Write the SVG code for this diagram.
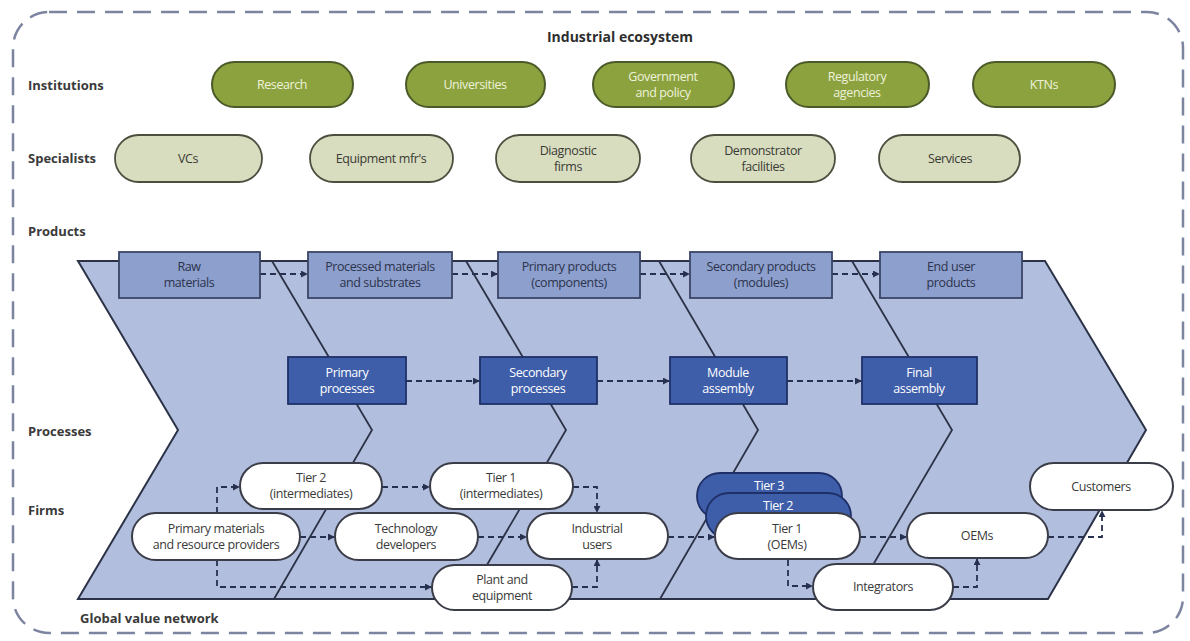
<svg xmlns="http://www.w3.org/2000/svg" width="1190" height="641" viewBox="0 0 1190 641">
  <defs>
    <marker id="arrow" viewBox="0 0 8 8" refX="7" refY="4" markerWidth="7" markerHeight="7" markerUnits="userSpaceOnUse" orient="auto">
      <path d="M0,0 L8,4 L0,8 Z" fill="#27304f"/>
    </marker>
    <style>
      .lbl { font-family: "Open Sans", "Liberation Sans", sans-serif; font-size: 13px; font-weight: 700; fill: #3a3a3a; }
      .title { font-family: "Open Sans", "Liberation Sans", sans-serif; font-size: 14px; font-weight: 700; fill: #2e2e2e; }
      .t { font-family: "Open Sans", "Liberation Sans", sans-serif; font-size: 12.5px; text-anchor: middle; letter-spacing: -0.4px; }
      .inst rect { fill: #8ca23e; stroke: #4a5a28; stroke-width: 2; }
      .inst text { fill: #eef2dc; }
      .spec rect { fill: #d8ddc0; stroke: #4c4f3e; stroke-width: 1.8; }
      .spec text { fill: #3a3a34; }
      .prod rect { fill: #8d9fcd; stroke: #3a4566; stroke-width: 1.8; }
      .prod text { fill: #2c334c; }
      .proc rect { fill: #3e5eaa; stroke: #1f3068; stroke-width: 1.8; }
      .proc text { fill: #ffffff; }
      .firm rect { fill: #ffffff; stroke: #3a3d48; stroke-width: 2; }
      .firm text { fill: #3a3a3a; }
      .tier rect { fill: #3e5eaa; stroke: #1f3068; stroke-width: 1.8; }
      .tier text { fill: #ffffff; }
      .conn path { fill: none; stroke: #27304f; stroke-width: 1.8; stroke-dasharray: 6 4; marker-end: url(#arrow); }
      .chev { fill: #b2bedd; stroke: #2c3348; stroke-width: 2; stroke-linejoin: miter; }
      .chevline { fill: none; stroke: #2c3348; stroke-width: 1.8; }
    </style>
  </defs>

  <rect width="1190" height="641" fill="#ffffff"/>

  <!-- ecosystem boundary -->
  <rect x="13" y="12" width="1170" height="621" rx="36" fill="none" stroke="#7d84a0" stroke-width="2.5" stroke-dasharray="18 10"/>

  <text class="title" x="620" y="42" text-anchor="middle">Industrial ecosystem</text>

  <!-- row labels -->
  <text class="lbl" x="28" y="90">Institutions</text>
  <text class="lbl" x="28" y="163">Specialists</text>
  <text class="lbl" x="28" y="236">Products</text>
  <text class="lbl" x="28" y="436">Processes</text>
  <text class="lbl" x="28" y="515">Firms</text>
  <text class="lbl" x="80" y="623">Global value network</text>

  <!-- value chain chevrons -->
  <g id="value-chain">
    <polygon class="chev" points="78,261 1045,261 1146,430 1048,599 78,599 178,430"/>
    <polyline class="chevline" points="272,261 372,430 274,599"/>
    <polyline class="chevline" points="466,261 566,430 467,599"/>
    <polyline class="chevline" points="659,261 758,430 660,599"/>
    <polyline class="chevline" points="852,261 952,430 853,599"/>
  </g>

  <!-- institutions -->
  <g id="research" class="inst"><rect x="212" y="62" width="141" height="45" rx="22.5"/><text class="t" x="282" y="89">Research</text></g>
  <g id="universities" class="inst"><rect x="406" y="62" width="139" height="45" rx="22.5"/><text class="t" x="475" y="89">Universities</text></g>
  <g id="government" class="inst"><rect x="593" y="62" width="141" height="45" rx="22.5"/><text class="t" x="663" y="81">Government</text><text class="t" x="663" y="97">and policy</text></g>
  <g id="regulatory" class="inst"><rect x="786" y="62" width="143" height="45" rx="22.5"/><text class="t" x="857" y="81">Regulatory</text><text class="t" x="857" y="97">agencies</text></g>
  <g id="ktns" class="inst"><rect x="973" y="62" width="142" height="45" rx="22.5"/><text class="t" x="1044" y="89">KTNs</text></g>

  <!-- specialists -->
  <g id="vcs" class="spec"><rect x="115" y="135" width="147" height="47" rx="23.5"/><text class="t" x="188" y="163">VCs</text></g>
  <g id="equipment-mfrs" class="spec"><rect x="310" y="135" width="143" height="47" rx="23.5"/><text class="t" x="381" y="163">Equipment mfr's</text></g>
  <g id="diagnostic" class="spec"><rect x="496" y="135" width="144" height="47" rx="23.5"/><text class="t" x="568" y="155">Diagnostic</text><text class="t" x="568" y="171">firms</text></g>
  <g id="demonstrator" class="spec"><rect x="691" y="135" width="144" height="47" rx="23.5"/><text class="t" x="763" y="155">Demonstrator</text><text class="t" x="763" y="171">facilities</text></g>
  <g id="services" class="spec"><rect x="879" y="135" width="141" height="47" rx="23.5"/><text class="t" x="950" y="163">Services</text></g>

  <!-- connectors -->
  <g id="connectors" class="conn">
    <path d="M260,274 H307"/>
    <path d="M452,274 H497"/>
    <path d="M640,274 H689"/>
    <path d="M832,274 H879"/>
    <path d="M406,381 H479"/>
    <path d="M597,381 H669"/>
    <path d="M787,381 H861"/>
    <path d="M217,513 V487 H239"/>
    <path d="M217,560 V587 H431"/>
    <path d="M300,537 H334"/>
    <path d="M382,487 H429"/>
    <path d="M478,537 H526"/>
    <path d="M573,487 H597 V512"/>
    <path d="M572,587 H597 V560"/>
    <path d="M668,537 H714"/>
    <path d="M860,537 H906"/>
    <path d="M788,560 V586 H812"/>
    <path d="M953,587 H977 V559"/>
    <path d="M1048,537 H1102 V511"/>
  </g>

  <!-- products -->
  <g id="raw-materials" class="prod"><rect x="119" y="252" width="141" height="46"/><text class="t" x="189" y="271">Raw</text><text class="t" x="189" y="287">materials</text></g>
  <g id="processed-materials" class="prod"><rect x="308" y="252" width="144" height="46"/><text class="t" x="380" y="271">Processed materials</text><text class="t" x="380" y="287">and substrates</text></g>
  <g id="primary-products" class="prod"><rect x="498" y="252" width="142" height="46"/><text class="t" x="569" y="271">Primary products</text><text class="t" x="569" y="287">(components)</text></g>
  <g id="secondary-products" class="prod"><rect x="690" y="252" width="142" height="46"/><text class="t" x="761" y="271">Secondary products</text><text class="t" x="761" y="287">(modules)</text></g>
  <g id="end-user-products" class="prod"><rect x="880" y="252" width="142" height="46"/><text class="t" x="951" y="271">End user</text><text class="t" x="951" y="287">products</text></g>

  <!-- processes -->
  <g id="primary-processes" class="proc"><rect x="288" y="357" width="118" height="47"/><text class="t" x="347" y="377">Primary</text><text class="t" x="347" y="393">processes</text></g>
  <g id="secondary-processes" class="proc"><rect x="480" y="357" width="117" height="47"/><text class="t" x="538" y="377">Secondary</text><text class="t" x="538" y="393">processes</text></g>
  <g id="module-assembly" class="proc"><rect x="670" y="357" width="117" height="47"/><text class="t" x="728" y="377">Module</text><text class="t" x="728" y="393">assembly</text></g>
  <g id="final-assembly" class="proc"><rect x="862" y="357" width="115" height="47"/><text class="t" x="919" y="377">Final</text><text class="t" x="919" y="393">assembly</text></g>

  <!-- firms -->
  <g id="tier2-intermediates" class="firm"><rect x="240" y="463" width="142" height="46" rx="23"/><text class="t" x="311" y="482">Tier 2</text><text class="t" x="311" y="498">(intermediates)</text></g>
  <g id="tier1-intermediates" class="firm"><rect x="430" y="463" width="143" height="46" rx="23"/><text class="t" x="501" y="482">Tier 1</text><text class="t" x="501" y="498">(intermediates)</text></g>
  <g id="primary-materials" class="firm"><rect x="132" y="513" width="168" height="47" rx="23.5"/><text class="t" x="216" y="533">Primary materials</text><text class="t" x="216" y="549">and resource providers</text></g>
  <g id="technology-developers" class="firm"><rect x="335" y="513" width="143" height="47" rx="23.5"/><text class="t" x="406" y="533">Technology</text><text class="t" x="406" y="549">developers</text></g>
  <g id="industrial-users" class="firm"><rect x="527" y="513" width="141" height="46" rx="23"/><text class="t" x="597" y="533">Industrial</text><text class="t" x="597" y="549">users</text></g>
  <g id="plant-equipment" class="firm"><rect x="432" y="565" width="140" height="45" rx="22.5"/><text class="t" x="502" y="584">Plant and</text><text class="t" x="502" y="600">equipment</text></g>
  <g id="tier3-oems" class="tier"><rect x="697" y="473" width="145" height="46" rx="23"/><text class="t" x="769" y="490">Tier 3</text></g>
  <g id="tier2-oems" class="tier"><rect x="706" y="493" width="145" height="46" rx="23"/><text class="t" x="778" y="510">Tier 2</text></g>
  <g id="tier1-oems" class="firm"><rect x="715" y="513" width="145" height="46" rx="23"/><text class="t" x="787" y="533">Tier 1</text><text class="t" x="787" y="549">(OEMs)</text></g>
  <g id="oems" class="firm"><rect x="907" y="513" width="141" height="45" rx="22.5"/><text class="t" x="977" y="540">OEMs</text></g>
  <g id="integrators" class="firm"><rect x="813" y="564" width="140" height="46" rx="23"/><text class="t" x="883" y="591">Integrators</text></g>
  <g id="customers" class="firm"><rect x="1030" y="463" width="143" height="47" rx="23.5"/><text class="t" x="1101" y="491">Customers</text></g>
</svg>
